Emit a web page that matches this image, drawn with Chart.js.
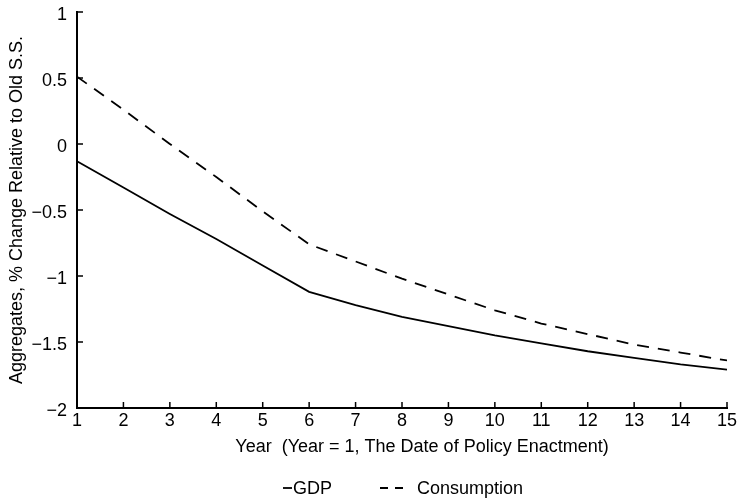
<!DOCTYPE html>
<html>
<head>
<meta charset="utf-8">
<script src="https://cdn.jsdelivr.net/npm/chart.js@4/dist/chart.umd.min.js"></script>
<style>
  html, body { margin: 0; padding: 0; background: #ffffff; }
  #wrap { width: 740px; height: 498px; }
</style>
</head>
<body>
<div id="wrap"><canvas id="chart" width="740" height="498"></canvas></div>
<script>
// Years after the policy is enacted (year 1 = enactment)
const years = [1, 2, 3, 4, 5, 6, 7, 8, 9, 10, 11, 12, 13, 14, 15];

// Percent change of each aggregate relative to the old steady state
const gdp = [-0.13, -0.33, -0.53, -0.72, -0.92, -1.12, -1.22, -1.31, -1.38, -1.45, -1.51, -1.57, -1.62, -1.67, -1.71];
const consumption = [0.51, 0.26, 0.00, -0.25, -0.51, -0.76, -0.89, -1.02, -1.14, -1.26, -1.36, -1.44, -1.52, -1.58, -1.64];

// Axis ranges and tick spacing
const yTicks = [-2, -1.5, -1, -0.5, 0, 0.5, 1];
const xTitle = 'Year  (Year = 1, The Date of Policy Enactment)';
const yTitle = 'Aggregates, % Change Relative to Old S.S.';
const seriesNames = ['GDP', 'Consumption'];

const FONT = "'Liberation Sans', Arial, Helvetica, sans-serif";
Chart.defaults.font.family = FONT;
Chart.defaults.font.size = 18;
Chart.defaults.color = '#000';

const toPoints = (vals) => years.map((yr, i) => ({ x: yr, y: vals[i] }));
const minus = (v) => String(v).replace('-', '\u2212');

// Inward-pointing tick marks, the x-axis title and the legend row
const decorations = {
  id: 'decorations',
  afterDraw(chart) {
    const { ctx, scales: { x, y }, chartArea } = chart;
    ctx.save();
    ctx.strokeStyle = '#000';
    ctx.lineWidth = 1.5;
    ctx.beginPath();
    x.ticks.forEach(t => {
      const px = x.getPixelForValue(t.value);
      ctx.moveTo(px, chartArea.bottom);
      ctx.lineTo(px, chartArea.bottom - 6);
    });
    y.ticks.forEach(t => {
      const py = y.getPixelForValue(t.value);
      ctx.moveTo(chartArea.left, py);
      ctx.lineTo(chartArea.left + 6, py);
    });
    ctx.stroke();

    ctx.fillStyle = '#000';
    ctx.font = '18px ' + FONT;
    ctx.textBaseline = 'alphabetic';
    ctx.textAlign = 'center';
    ctx.fillText(xTitle, 422, 452);

    // legend entries
    const ds = chart.data.datasets;
    const legendY = 488;
    ctx.textAlign = 'left';
    ctx.lineWidth = ds[0].borderWidth;
    ctx.strokeStyle = ds[0].borderColor;
    ctx.setLineDash([]);
    ctx.beginPath();
    ctx.moveTo(283, legendY);
    ctx.lineTo(292, legendY);
    ctx.stroke();
    ctx.fillText(ds[0].label, 293, 494);

    ctx.strokeStyle = ds[1].borderColor;
    ctx.lineWidth = ds[1].borderWidth;
    ctx.beginPath();
    ctx.moveTo(380, legendY); ctx.lineTo(388, legendY);
    ctx.moveTo(395, legendY); ctx.lineTo(403, legendY);
    ctx.stroke();
    ctx.fillText(ds[1].label, 417, 494);
    ctx.restore();
  }
};

new Chart(document.getElementById('chart'), {
  type: 'line',
  data: {
    datasets: [
      {
        label: seriesNames[0],
        data: toPoints(gdp),
        borderColor: '#000',
        borderWidth: 1.8,
        pointRadius: 0,
        tension: 0,
        fill: false
      },
      {
        label: seriesNames[1],
        data: toPoints(consumption),
        borderColor: '#000',
        borderWidth: 1.8,
        borderDash: [12, 9],
        pointRadius: 0,
        tension: 0,
        fill: false
      }
    ]
  },
  options: {
    responsive: false,
    animation: false,
    devicePixelRatio: 1,
    layout: { padding: { top: 12, right: 13, left: 0, bottom: 0 } },
    plugins: { legend: { display: false }, tooltip: { enabled: false } },
    scales: {
      x: {
        type: 'linear',
        min: years[0],
        max: years[years.length - 1],
        grid: { display: false, drawTicks: false },
        border: { display: true, width: 2, color: '#000' },
        ticks: { stepSize: 1, padding: 2, color: '#000', callback: v => minus(v) },
        afterFit(scale) {
          scale.height = 90;
          scale.paddingLeft = 0;
          scale.paddingRight = 0;
        }
      },
      y: {
        type: 'linear',
        min: yTicks[0],
        max: yTicks[yTicks.length - 1],
        grid: { display: false, drawTicks: false },
        border: { display: true, width: 2, color: '#000' },
        ticks: { stepSize: 0.5, padding: 10, labelOffset: 3, color: '#000', callback: v => minus(v) },
        title: { display: true, text: yTitle, color: '#000', font: { size: 18 }, padding: { top: 6, bottom: 0 } },
        afterFit(scale) {
          scale.width = 77;
          scale.paddingTop = 0;
          scale.paddingBottom = 0;
        }
      }
    }
  },
  plugins: [decorations]
});
</script>
</body>
</html>
